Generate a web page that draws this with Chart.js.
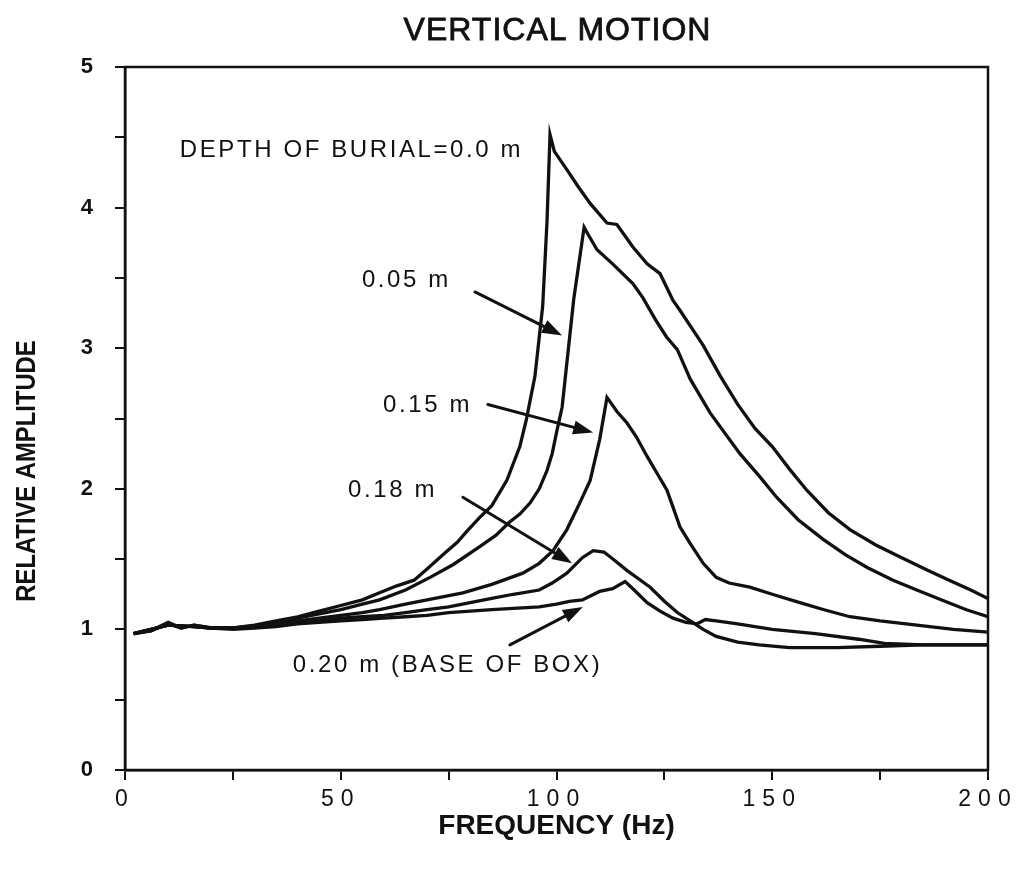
<!DOCTYPE html>
<html>
<head>
<meta charset="utf-8">
<script src="https://cdn.jsdelivr.net/npm/chart.js@4.4.1/dist/chart.umd.min.js"></script>
<style>
  html, body { margin: 0; padding: 0; background: #fff; }
  #wrap { width: 1022px; height: 870px; }
</style>
</head>
<body>
<div id="wrap"><canvas id="c" width="1022" height="870"></canvas></div>
<script>
// ---- data ----
const chartTitle = 'VERTICAL MOTION';
const xTitle = 'FREQUENCY (Hz)';
const yTitle = 'RELATIVE AMPLITUDE';
const seriesLabels = ['0.0 m', '0.05 m', '0.15 m', '0.18 m', '0.20 m'];

const freq00 = [2, 6, 10, 13, 16, 20, 25, 30, 35, 40, 45, 50, 55, 59, 63, 67, 70, 74, 77, 79, 82, 85, 88.5, 91.5, 93, 95, 96.8, 97.8, 98.5, 99.5, 102.4, 105, 107.8, 111.7, 114, 117.7, 121, 124, 127, 128.6, 134, 138, 142, 146, 150, 154, 158, 163, 168, 174, 180, 186, 191, 196, 200];
const amp00  = [0.97, 0.99, 1.05, 1.01, 1.03, 1.01, 1.01, 1.03, 1.06, 1.09, 1.13, 1.17, 1.21, 1.26, 1.31, 1.35, 1.43, 1.54, 1.62, 1.69, 1.79, 1.88, 2.06, 2.30, 2.49, 2.80, 3.30, 3.90, 4.52, 4.40, 4.27, 4.15, 4.03, 3.89, 3.88, 3.72, 3.60, 3.53, 3.34, 3.27, 3.02, 2.80, 2.60, 2.43, 2.30, 2.14, 1.99, 1.83, 1.71, 1.60, 1.51, 1.42, 1.35, 1.28, 1.22];

const freq05 = [2, 6, 10, 13, 16, 20, 25, 30, 35, 40, 45, 50, 55, 59, 65, 70.7, 76, 82.3, 86, 89, 91.5, 93.9, 96, 97.8, 99, 100, 101.3, 102.7, 104, 106.4, 107.5, 109.4, 113, 117.7, 120, 123, 125.5, 128, 131, 135.6, 142.5, 147, 151, 156, 161.8, 167, 172, 178, 183.5, 190, 195, 200];
const amp05  = [0.97, 0.99, 1.04, 1.01, 1.03, 1.01, 1.01, 1.02, 1.05, 1.08, 1.11, 1.14, 1.18, 1.21, 1.28, 1.37, 1.46, 1.59, 1.67, 1.76, 1.82, 1.90, 2.00, 2.13, 2.25, 2.40, 2.58, 2.98, 3.35, 3.86, 3.80, 3.70, 3.60, 3.46, 3.36, 3.20, 3.08, 2.99, 2.78, 2.54, 2.25, 2.09, 1.94, 1.78, 1.64, 1.53, 1.44, 1.35, 1.28, 1.20, 1.14, 1.09];

const freq15 = [2, 10, 16, 20, 25, 30, 35, 40, 45, 50, 55, 59, 65, 70, 78.3, 85, 92.2, 96, 99.2, 102.4, 105.4, 107.8, 110, 111.7, 114, 116.3, 118.5, 121, 123.5, 125.6, 127, 128.6, 131, 134, 137, 140, 144.8, 150, 156.4, 162, 168, 175, 183.5, 192, 200];
const amp15  = [0.97, 1.03, 1.02, 1.01, 1.01, 1.02, 1.04, 1.06, 1.08, 1.10, 1.12, 1.14, 1.18, 1.21, 1.26, 1.32, 1.40, 1.47, 1.56, 1.71, 1.90, 2.06, 2.35, 2.65, 2.55, 2.47, 2.37, 2.23, 2.10, 1.99, 1.87, 1.73, 1.61, 1.47, 1.37, 1.33, 1.30, 1.25, 1.19, 1.14, 1.09, 1.06, 1.03, 1.00, 0.98];

const freq18 = [2, 10, 16, 20, 25, 30, 35, 40, 45, 50, 55, 60, 65, 70, 75, 80, 85, 90, 96, 99, 102.4, 106, 108.5, 111, 113.5, 116.3, 119, 121.7, 125, 128, 131, 134, 137, 142, 147, 154, 165, 175, 185, 200];
const amp18  = [0.97, 1.03, 1.02, 1.01, 1.01, 1.02, 1.03, 1.05, 1.06, 1.08, 1.09, 1.10, 1.12, 1.14, 1.16, 1.19, 1.22, 1.25, 1.28, 1.33, 1.40, 1.51, 1.56, 1.55, 1.49, 1.42, 1.36, 1.30, 1.20, 1.12, 1.06, 1.00, 0.95, 0.91, 0.89, 0.87, 0.87, 0.88, 0.89, 0.89];

const freq20 = [2, 10, 16, 20, 25, 30, 35, 40, 45, 50, 55, 60, 65, 70, 75, 80, 85, 90, 96, 100, 103, 106, 110, 113, 115.9, 118, 121, 124, 127, 130, 132.6, 134.5, 137, 142, 150, 160, 170, 176, 185, 200];
const amp20  = [0.97, 1.03, 1.02, 1.01, 1.00, 1.01, 1.02, 1.04, 1.05, 1.06, 1.07, 1.08, 1.09, 1.10, 1.12, 1.13, 1.14, 1.15, 1.16, 1.18, 1.20, 1.21, 1.27, 1.29, 1.34, 1.28, 1.19, 1.13, 1.08, 1.05, 1.04, 1.07, 1.06, 1.04, 1.00, 0.97, 0.93, 0.90, 0.89, 0.89];

// annotation labels (anchored in data units)
const noteTexts = ['DEPTH OF BURIAL=0.0 m', '0.05 m', '0.15 m', '0.18 m', '0.20 m (BASE OF BOX)'];
const noteFreq  = [12.7, 54.9, 59.8, 51.7, 38.9];
const noteAmp   = [4.41, 3.485, 2.596, 1.99, 0.747];
// arrows: from (freq, amp) to (freq, amp)
const arrowFromFreq = [81.1, 84.1, 78.3, 89.2];
const arrowFromAmp  = [3.40, 2.60, 1.94, 0.89];
const arrowToFreq   = [101.3, 108.5, 103.6, 106.1];
const arrowToAmp    = [3.09, 2.40, 1.47, 1.16];

// ---- build ----
const toPts = (fs, as) => fs.map((f, i) => ({ x: f, y: as[i] }));
const seriesFreq = [freq00, freq05, freq15, freq18, freq20];
const seriesAmp = [amp00, amp05, amp15, amp18, amp20];

const datasets = seriesLabels.map((lab, i) => ({
  label: lab,
  data: toPts(seriesFreq[i], seriesAmp[i]),
  borderColor: '#111',
  borderWidth: 3.3,
  pointRadius: 0,
  tension: 0,
  fill: false
}));

const TEXT_FONT = "'Liberation Sans', Arial, sans-serif";

const decorPlugin = {
  id: 'decor',
  beforeDraw(chart) {
    const sx = chart.scales.x;
    if (!sx._spaced) {
      const orig = sx.drawLabels;
      sx.drawLabels = function (area) {
        const c = this.ctx;
        c.save();
        c.letterSpacing = '7px';
        orig.call(this, area);
        c.restore();
      };
      sx._spaced = true;
    }
    const ctx = chart.ctx;
    ctx.save();
    ctx.fillStyle = '#fff';
    ctx.fillRect(0, 0, chart.width, chart.height);
    ctx.restore();
  },
  afterDraw(chart) {
    const ctx = chart.ctx;
    const a = chart.chartArea;
    const sx = chart.scales.x, sy = chart.scales.y;
    ctx.save();
    // frame
    ctx.strokeStyle = '#111';
    ctx.lineWidth = 2.5;
    ctx.strokeRect(a.left, a.top, a.right - a.left, a.bottom - a.top);

    // title
    ctx.fillStyle = '#111';
    ctx.font = "32px " + TEXT_FONT;
    ctx.letterSpacing = '1px';
    ctx.textAlign = 'center';
    ctx.textBaseline = 'middle';
    ctx.fillText(chartTitle, (a.left + a.right) / 2 + 1, 31);
    ctx.lineWidth = 0.8;
    ctx.strokeStyle = '#111';
    ctx.strokeText(chartTitle, (a.left + a.right) / 2 + 1, 31);

    // y axis title (condensed bold)
    ctx.save();
    ctx.letterSpacing = '0px';
    ctx.font = "bold 28px " + TEXT_FONT;
    ctx.translate(27, 471);
    ctx.rotate(-Math.PI / 2);
    ctx.scale(0.85, 1);
    ctx.textAlign = 'center';
    ctx.textBaseline = 'middle';
    ctx.fillText(yTitle, 0, 0);
    ctx.restore();

    // notes
    ctx.font = "24px " + TEXT_FONT;
    ctx.letterSpacing = '2.6px';
    ctx.textAlign = 'left';
    ctx.textBaseline = 'middle';
    noteTexts.forEach((t, i) => {
      ctx.fillText(t, sx.getPixelForValue(noteFreq[i]), sy.getPixelForValue(noteAmp[i]));
    });

    // arrows
    ctx.lineWidth = 3;
    ctx.lineCap = 'round';
    arrowFromFreq.forEach((f, i) => {
      const x1 = sx.getPixelForValue(f), y1 = sy.getPixelForValue(arrowFromAmp[i]);
      const x2 = sx.getPixelForValue(arrowToFreq[i]), y2 = sy.getPixelForValue(arrowToAmp[i]);
      const ang = Math.atan2(y2 - y1, x2 - x1);
      const L = 20, W = 7;
      const bx = x2 - L * Math.cos(ang), by = y2 - L * Math.sin(ang);
      ctx.beginPath();
      ctx.moveTo(x1, y1);
      ctx.lineTo(bx, by);
      ctx.stroke();
      ctx.beginPath();
      ctx.moveTo(x2, y2);
      ctx.lineTo(bx - W * Math.sin(ang), by + W * Math.cos(ang));
      ctx.lineTo(bx + W * Math.sin(ang), by - W * Math.cos(ang));
      ctx.closePath();
      ctx.fill();
    });
    ctx.restore();
  }
};

new Chart(document.getElementById('c'), {
  type: 'line',
  data: { datasets },
  options: {
    responsive: false,
    animation: false,
    devicePixelRatio: 1,
    parsing: true,
    layout: { padding: { top: 67, right: 34, left: 0, bottom: 0 } },
    plugins: {
      legend: { display: false },
      title: { display: false },
      tooltip: { enabled: false }
    },
    scales: {
      x: {
        type: 'linear',
        min: 0, max: 200,
        afterFit(scale) { scale.height = 100; },
        ticks: {
          stepSize: 25,
          autoSkip: false,
          maxRotation: 0,
          padding: 6,
          color: '#111',
          font: { family: TEXT_FONT, size: 23 },
          callback: (v) => (v % 50 === 0 ? String(v) : '')
        },
        grid: { drawOnChartArea: false, drawTicks: true, tickLength: 10, color: '#111', lineWidth: 2 },
        border: { display: true, color: '#111', width: 2.5 },
        title: {
          display: true,
          text: xTitle,
          color: '#111',
          font: { family: TEXT_FONT, size: 28, weight: 'bold' },
          padding: { top: 0, bottom: 27 }
        }
      },
      y: {
        type: 'linear',
        min: 0, max: 5,
        afterFit(scale) { scale.width = 125; },
        ticks: {
          stepSize: 0.5,
          autoSkip: false,
          padding: 22,
          color: '#111',
          font: { family: TEXT_FONT, size: 22, weight: 'bold' },
          callback: (v) => (Number.isInteger(v) ? String(v) : '')
        },
        grid: { drawOnChartArea: false, drawTicks: true, tickLength: 10, color: '#111', lineWidth: 2 },
        border: { display: true, color: '#111', width: 2.5 },
        title: { display: false }
      }
    }
  },
  plugins: [decorPlugin]
});
</script>
</body>
</html>
